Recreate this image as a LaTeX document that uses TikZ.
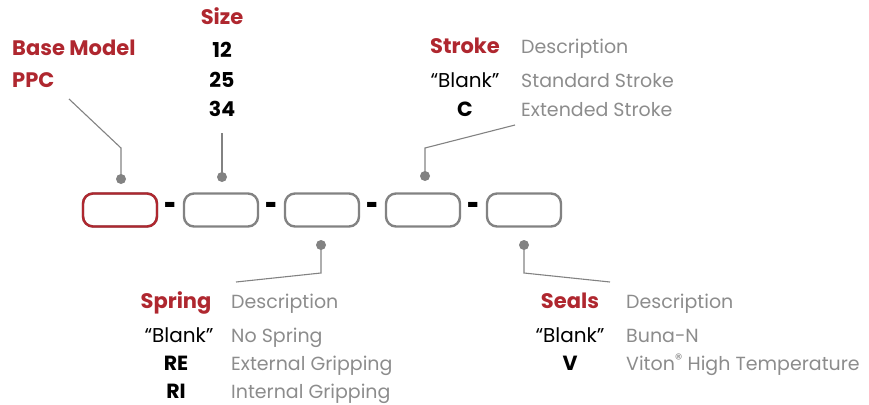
\documentclass[tikz,border=0pt]{standalone}
\usepackage{fontspec}
\setmainfont{Poppins}
\usetikzlibrary{positioning}

\definecolor{ppcred}{RGB}{175,39,47}
\definecolor{ppcgray}{RGB}{130,130,130}
\definecolor{descgray}{RGB}{140,140,140}

\tikzset{
  codebox/.style={draw=ppcgray, line width=2.4pt, rounded corners=10pt,
                  minimum width=74pt, minimum height=33pt, inner sep=0pt},
  leader/.style={ppcgray, line width=1.1pt},
  head/.style={text=ppcred, font=\fontsize{21}{24}\bfseries\selectfont, inner sep=0pt},
  code/.style={text=black, font=\fontsize{20.5}{24}\bfseries\selectfont, inner sep=0pt},
  blank/.style={text=black, font=\fontsize{20}{24}\selectfont, inner sep=0pt},
  desc/.style={text=descgray, font=\fontsize{19}{22}\selectfont, inner sep=0pt, anchor=base west},
  sep/.style={text=black, font=\fontsize{21}{24}\bfseries\selectfont, inner sep=0pt}
}

\begin{document}
\begin{tikzpicture}[x=1pt,y=-1pt]
    \useasboundingbox (0,0) rectangle (869,404);

    % boxes of the part number
    \foreach \i/\x in {1/120,2/221,3/322,4/423,5/524}
        \node (b\i) at (\x,210) [codebox] {};
    \node (b1) at (120,210) [codebox, draw=ppcred] {};

    % dashes between the boxes
    \foreach \a/\b in {1/2,2/3,3/4,4/5}
        \path (b\a) -- (b\b) node (s\a) [midway, sep] {\scalebox{1}[1.7]{-}};

    % dots and leader lines
    \coordinate (d1) at (121,179);
    \coordinate (d2) at (222,177);
    \coordinate (d3) at (321,245);
    \coordinate (d4) at (425,176);
    \coordinate (d5) at (524,245);
    \coordinate (e1) at (69,99);
    \coordinate (e2) at (222,133);
    \coordinate (e3) at (236,282);
    \coordinate (e4) at (515,125);
    \coordinate (e5) at (610,282);

    \draw[leader] (d1) -- (d1 |- 0,148) -- (e1);
    \draw[leader] (d2) -- (e2);
    \draw[leader] (d3) -- (d3 |- 0,273) -- (e3);
    \draw[leader] (d4) -- (d4 |- 0,148) -- (e4);
    \draw[leader] (d5) -- (d5 |- 0,273) -- (e5);
    \foreach \i in {1,...,5}
        \fill[ppcgray] (d\i) circle (5pt);

    % base model
    \node (base) at (12,56) [head, anchor=base west] {Base Model};
    \node (ppc) at (12,87) [head, anchor=base west] {PPC};

    % size
    \node (size) at (222,25) [head, anchor=base] {Size};
    \node (s12) at (222,58) [code, anchor=base] {12};
    \node (s25) at (222,87) [code, anchor=base] {25};
    \node (s34) at (222,116) [code, anchor=base] {34};

    % stroke
    \node (stroke) at (465,54) [head, anchor=base] {Stroke};
    \node (strokeb) at (465,87) [blank, anchor=base] {“Blank”};
    \node (strokec) at (465,116) [code, anchor=base] {C};
    \node (stroked) at (521,54) [desc] {Description};
    \node at (521,87) [desc] {Standard Stroke};
    \node at (521,116) [desc] {Extended Stroke};

    % spring
    \node (spring) at (176,308) [head, anchor=base] {Spring};
    \node (springb) at (179,342) [blank, anchor=base] {“Blank”};
    \node (springre) at (176,370) [code, anchor=base] {RE};
    \node (springri) at (176,398) [code, anchor=base] {RI};
    \node (springd) at (231,308) [desc] {Description};
    \node at (231,342) [desc] {No Spring};
    \node at (231,370) [desc] {External Gripping};
    \node at (231,398) [desc] {Internal Gripping};

    % seals
    \node (seals) at (570,308) [head, anchor=base] {Seals};
    \node (sealsb) at (570,342) [blank, anchor=base] {“Blank”};
    \node (sealsv) at (570,370) [code, anchor=base] {V};
    \node (sealsd) at (626,308) [desc] {Description};
    \node at (626,342) [desc] {Buna-N};
    \node at (626,370) [desc] {Viton\raisebox{0.3em}{\fontsize{15}{15}\selectfont ®} High Temperature};
\end{tikzpicture}
\end{document}
